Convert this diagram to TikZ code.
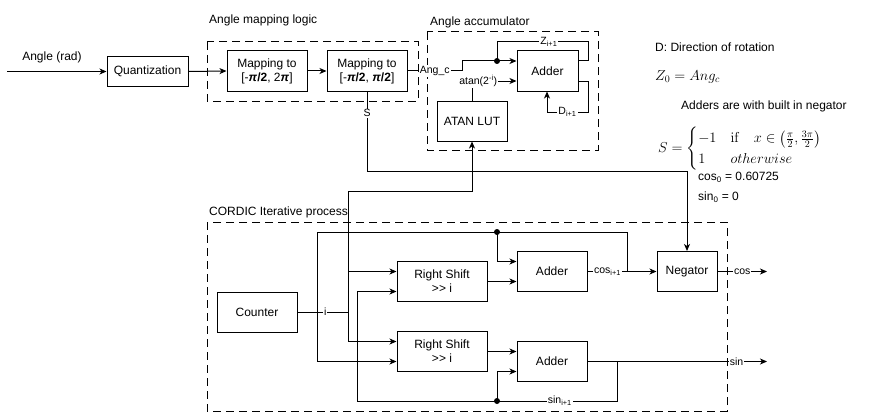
\documentclass[tikz,border=0pt]{standalone}
\usepackage[no-math]{fontspec}
\setmainfont{Liberation Sans}
\usepackage{amsmath}
\usetikzlibrary{arrows.meta}
\begin{document}
\begin{tikzpicture}[x=1pt,y=-1pt,
 blk/.style={draw, line width=1pt, align=center, inner sep=0pt, font=\fontsize{12}{14}\selectfont},
 grp/.style={draw, line width=1pt, dash pattern=on 8pt off 5pt},
 conn/.style={line width=1pt},
 arr/.style={conn, -{Stealth[length=7pt,width=6pt,inset=2pt]}},
 lbl/.style={fill=white, inner sep=1pt, font=\fontsize{10.5}{12}\selectfont},
 ttl/.style={anchor=west, inner sep=0pt, font=\fontsize{12}{14}\selectfont},
 dot/.style={circle, fill, inner sep=0pt, minimum size=6pt}]
\useasboundingbox (0,0) rectangle (878,412);

% group boxes
\draw[grp] (207,42) rectangle (418,101);
\draw[grp] (427,32) rectangle (598,150);
\draw[grp] (207,222) rectangle (727,411);
\node[ttl] (tmap) at (209,20) {Angle mapping logic};
\node[ttl] (tacc) at (430,22) {Angle accumulator};
\node[ttl] (tcor) at (209,212) {CORDIC Iterative process};

% blocks
\node[blk, minimum width=81, minimum height=29] (quant) at (147.5,71.5) {Quantization};
\node[blk, minimum width=80, minimum height=40] (map1) at (267,71) {Mapping to\\{}[-\textbf{\textit{π}/2}, 2\textbf{\textit{π}}]};
\node[blk, minimum width=80, minimum height=40] (map2) at (367,71) {Mapping to\\{}[-\textbf{\textit{π}/2}, \textbf{\textit{π}/2}]};
\node[blk, minimum width=61, minimum height=40] (addA) at (547.5,71) {Adder};
\node[blk, minimum width=70, minimum height=40] (atan) at (472,121) {ATAN LUT};
\node[blk, minimum width=80, minimum height=40] (counter) at (257,312) {Counter};
\node[blk, minimum width=90, minimum height=40] (rs1) at (442,281.5) {Right Shift\\{}>{}> i};
\node[blk, minimum width=90, minimum height=40] (rs2) at (442,351.5) {Right Shift\\{}>{}> i};
\node[blk, minimum width=70, minimum height=40] (add1) at (552,271.5) {Adder};
\node[blk, minimum width=70, minimum height=40] (add2) at (552,361.5) {Adder};
\node[blk, minimum width=60, minimum height=40] (neg) at (687,271.5) {Negator};

% input
\node[ttl, anchor=center] (tang) at (52,57) {Angle (rad)};
\coordinate (angin) at (7,71.5);
\draw[arr] (angin) -- (quant);
\draw[arr] (quant.east) -- (map1.west);
\draw[arr] (map1) -- (map2);

% accumulator
\node[dot] (dz) at (497,61) {};
\draw[arr] (map2.east) -- node[lbl]{Ang\_c} (462,71) |- ([yshift=10pt]addA.west);
\draw[conn] ([yshift=10pt]addA.east) -| (588,42) -- node[lbl,pos=0.43]{Z\textsubscript{i+1}} (497,42) -- (dz.center);
\draw[arr] ([yshift=-10pt]addA.east) -| (588,112) -- node[lbl]{D\textsubscript{i+1}} (547,112) -- (addA.south -| 547,0);
\draw[arr] (atan.north) |- node[lbl,pos=0.57]{atan(2\textsuperscript{-i})} ([yshift=-10pt]addA.west);

% S line
\draw[arr] (map2.south) -- node[lbl,pos=0.275]{S} (367,171) -| (neg.north);

% counter i
\coordinate (ji) at (348,312);
\draw[conn] (counter.east) -- node[lbl,pos=0.55]{i} (ji);
\draw[arr] (ji) |- ([yshift=10pt]rs1.west);
\draw[arr] (ji) |- ([yshift=10pt]rs2.west);
\draw[arr] (ji) -- (348,191) -| (atan.south);

% cos path
\node[dot] (dc) at (497,232) {};
\draw[arr] (add1.east) -- node[lbl,pos=0.29]{cos\textsubscript{i+1}} (neg.west);
\draw[arr] (627,271.5) |- (317,232) |- ([yshift=-10pt]rs2.west);
\draw[arr] (dc.center) |- ([yshift=10pt]add1.west);
\draw[arr] (rs1.east) -- ([yshift=-10pt]add1.west);
\coordinate (cosout) at (767,271.5);
\draw[arr] (neg.east) -- node[lbl]{cos} (cosout);

% sin path
\node[dot] (ds) at (497,401) {};
\draw[arr] (rs2.east) -- ([yshift=10pt]add2.west);
\coordinate (sinout) at (767,361.5);
\draw[arr] (add2.east) -- node[lbl,pos=0.83]{sin} (sinout);
\draw[arr] (617,361.5) |- node[lbl,pos=0.61]{sin\textsubscript{i+1}} (357,401) |- ([yshift=-10pt]rs1.west);
\draw[arr] (ds.center) |- ([yshift=-10pt]add2.west);

% notes
\node[ttl] (nd) at (655,47) {D: Direction of rotation};
\node[ttl] (nz) at (655,77) {\fontsize{14}{16}\selectfont $Z_0 = Ang_c$};
\node[ttl] (nadd) at (681,106) {Adders are with built in negator};
\node[ttl] (ns) at (658,149) {\fontsize{14}{17}\selectfont $S = \begin{cases} -1 & \mathrm{if}\quad x\in\left(\frac{\pi}{2},\frac{3\pi}{2}\right)\\ 1 & otherwise\end{cases}$};
\node[ttl] (ncos) at (698,177) {cos\textsubscript{0} = 0.60725};
\node[ttl] (nsin) at (698,197) {sin\textsubscript{0} = 0};
\end{tikzpicture}
\end{document}
